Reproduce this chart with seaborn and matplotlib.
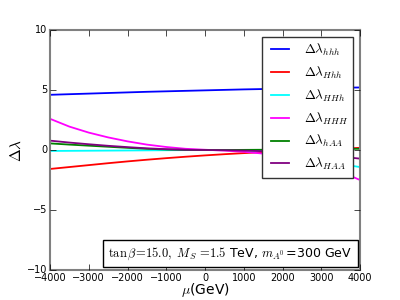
import numpy as np
import pandas as pd
import matplotlib
matplotlib.use('Agg')
import matplotlib.pyplot as plt
import seaborn as sns

mu = [-4000, -3500, -3000, -2500, -2000, -1500, -1000, -500, 0,
      500, 1000, 1500, 2000, 2500, 3000, 3500, 4000]

d_hhh = [4.60, 4.65, 4.70, 4.75, 4.80, 4.85, 4.89, 4.93, 4.97,
         5.01, 5.05, 5.08, 5.11, 5.14, 5.17, 5.19, 5.21]
d_Hhh = [-1.58, -1.42, -1.26, -1.10, -0.95, -0.81, -0.68, -0.56, -0.45,
         -0.35, -0.26, -0.18, -0.10, -0.03, 0.04, 0.11, 0.18]
d_HHh = [-0.08, -0.07, -0.06, -0.05, -0.04, -0.03, -0.02, -0.01, 0.0,
         0.0, -0.02, -0.08, -0.22, -0.48, -0.85, -1.18, -1.42]
d_HHH = [2.60, 1.95, 1.45, 1.05, 0.72, 0.45, 0.25, 0.10, 0.02,
         -0.05, -0.15, -0.30, -0.50, -0.80, -1.20, -1.80, -2.50]
d_hAA = [0.55, 0.45, 0.36, 0.27, 0.18, 0.10, 0.04, 0.01, 0.0,
         0.0, 0.01, 0.02, 0.03, 0.05, 0.07, 0.09, 0.10]
d_HAA = [0.78, 0.62, 0.48, 0.35, 0.24, 0.14, 0.07, 0.02, 0.0,
         -0.02, -0.05, -0.10, -0.17, -0.27, -0.40, -0.55, -0.72]

labels = [r'$\Delta\lambda_{hhh}$', r'$\Delta\lambda_{Hhh}$', r'$\Delta\lambda_{HHh}$',
          r'$\Delta\lambda_{HHH}$', r'$\Delta\lambda_{hAA}$', r'$\Delta\lambda_{HAA}$']
series = [d_hhh, d_Hhh, d_HHh, d_HHH, d_hAA, d_HAA]
colors = ['blue', 'red', 'cyan', 'magenta', 'green', 'purple']

plt.style.use('classic')
fig, ax = plt.subplots(figsize=(4, 3), dpi=100)
fig.subplots_adjust(left=0.125, right=0.9, bottom=0.1, top=0.9)

for vals, lab, col in zip(series, labels, colors):
    sns.lineplot(x=mu, y=vals, color=col, label=lab, lw=1.3, ax=ax)

ax.set_xlim(-4000, 4000)
ax.set_ylim(-10, 10)
ax.set_xticks(range(-4000, 4001, 1000))
ax.set_yticks([-10, -5, 0, 5, 10])
ax.tick_params(labelsize=7, pad=2)
for sp in ax.spines.values():
    sp.set_color('0.5')
    sp.set_linewidth(1.5)

ax.set_xlabel(r'$\mu$(GeV)', fontsize=10, labelpad=-1)
ax.set_ylabel(r'$\Delta\lambda$', fontsize=11, labelpad=2)

leg = ax.legend(loc='upper right', fontsize=9.5, borderaxespad=0.5)
leg.get_frame().set_edgecolor('0.2')

ax.text(0.975, 0.035, r'$\tan\beta\!=\!15.0,\ M_S\,=\!1.5$ TeV, $m_{A^0}\,$=300 GeV',
        transform=ax.transAxes, ha='right', va='bottom', fontsize=9,
        bbox=dict(facecolor='white', edgecolor='black', pad=4))

fig.savefig('out.png', dpi=100, facecolor='white')
